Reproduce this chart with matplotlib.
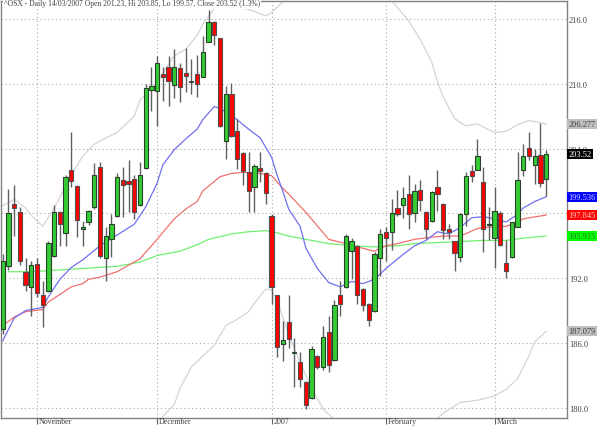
import matplotlib
matplotlib.use('Agg')
import matplotlib.pyplot as plt
import numpy as np
import matplotlib.transforms as mtransforms

# ---------------- data ----------------
opens = [187.3, 193.1, 198.9, 198.1, 192.6, 191.2, 193.3, 190.4, 190.8, 194.1,
         198.1, 196.2, 202.0, 200.5, 196.6, 197.2, 198.6, 202.3, 193.9, 195.6,
         197.8, 201.1, 201.0, 201.2, 198.8, 202.2, 209.4, 209.3, 210.9, 211.6,
         209.9, 211.5, 211.0, 210.2, 210.9, 210.6, 213.9, 215.7, 214.2, 204.7,
         209.1, 205.6, 203.6, 201.8, 200.4, 202.2, 201.7, 197.8, 190.4, 185.9,
         187.9, 185.1, 184.2, 182.4, 180.9, 184.8, 183.8, 187.0, 184.4, 190.4,
         191.2, 194.5, 195.0, 191.0, 189.6, 189.0, 193.9, 196.3, 196.3, 198.5,
         198.8, 199.8, 198.0, 200.2, 198.1, 197.3, 200.4, 198.9, 196.6, 195.4,
         194.0, 197.9, 201.9, 202.0, 200.9, 196.9, 195.7, 198.0, 193.4, 194.0,
         196.7, 202.0, 204.1, 202.5, 203.4, 201.23]
highs = [194.2, 200.3, 200.6, 198.6, 193.9, 193.6, 193.9, 191.7, 195.4, 198.8,
         198.2, 201.6, 205.5, 200.6, 197.3, 198.3, 202.7, 202.8, 196.7, 197.9,
         201.7, 202.3, 202.9, 201.6, 202.8, 210.0, 211.6, 212.6, 211.6, 212.6,
         213.2, 211.9, 213.3, 212.3, 212.7, 214.4, 216.8, 215.8, 214.2, 209.8,
         210.1, 206.7, 203.7, 203.7, 202.6, 203.7, 201.8, 197.9, 190.4, 188.0,
         190.4, 186.5, 185.2, 182.5, 185.7, 184.9, 187.6, 188.5, 190.0, 191.7,
         196.1, 195.7, 195.1, 191.1, 189.7, 194.4, 196.6, 196.7, 199.3, 200.2,
         200.4, 201.6, 200.7, 201.1, 198.2, 200.1, 202.0, 199.0, 197.0, 195.4,
         198.0, 201.8, 202.5, 204.9, 202.3, 198.6, 200.4, 198.2, 195.5, 197.2,
         203.7, 204.4, 205.5, 204.0, 206.4, 203.85]
lows = [186.8, 192.8, 195.9, 193.2, 190.8, 188.5, 190.3, 187.5, 190.7, 194.0,
        195.0, 195.0, 200.4, 195.8, 195.0, 196.9, 198.4, 193.9, 191.7, 194.0,
        197.7, 197.7, 198.1, 197.5, 198.7, 202.1, 207.5, 206.1, 208.4, 207.9,
        208.7, 208.3, 209.2, 209.1, 208.8, 210.6, 213.9, 213.6, 206.0, 203.0,
        205.1, 202.1, 200.6, 198.1, 198.1, 200.9, 198.9, 189.6, 184.7, 184.3,
        185.5, 181.9, 181.9, 179.9, 180.8, 183.6, 183.5, 183.3, 184.3, 188.5,
        191.1, 191.9, 189.6, 189.0, 187.6, 188.9, 192.2, 193.6, 194.6, 197.8,
        197.6, 196.6, 197.2, 198.2, 195.6, 197.2, 198.2, 195.6, 195.6, 192.7,
        193.5, 196.8, 200.9, 202.0, 194.4, 195.5, 192.9, 195.0, 192.0, 193.9,
        196.7, 201.5, 202.9, 200.7, 200.4, 199.57]
closes = [193.6, 198.0, 198.5, 193.6, 191.4, 193.2, 190.6, 189.5, 195.3, 198.1,
          197.0, 201.4, 201.0, 197.4, 196.7, 198.2, 201.6, 194.1, 195.9, 197.0,
          201.4, 200.6, 200.7, 198.1, 201.6, 209.6, 209.8, 211.9, 210.6, 210.3,
          211.6, 209.7, 210.7, 210.2, 210.0, 212.9, 215.7, 214.5, 206.1, 209.1,
          205.2, 203.0, 201.9, 200.1, 202.4, 201.9, 199.9, 191.2, 185.6, 186.3,
          186.4, 185.1, 182.7, 180.3, 185.4, 183.8, 186.6, 184.0, 189.5, 189.6,
          195.9, 195.4, 190.4, 189.5, 188.1, 194.2, 196.1, 195.7, 198.0, 197.9,
          199.4, 197.9, 200.1, 199.2, 196.6, 200.0, 199.8, 196.5, 196.3, 194.3,
          197.9, 201.5, 201.5, 203.3, 196.6, 197.0, 198.2, 195.1, 192.7, 197.2,
          201.1, 203.3, 203.3, 203.3, 200.8, 203.52]

month_labels = ['November', 'December', '2007', 'February', 'March']
month_start_day = [6, 27, 47, 67, 86]

# indicator lines (day index, value)
blue_days = [0, 2, 4, 7, 8, 10, 12, 14, 17, 20, 23, 25, 27, 28, 30, 32, 34, 35, 37, 38,
             40, 43, 45, 47, 48, 49, 50, 52, 53, 55, 57, 59, 61, 63, 65, 67, 70, 72,
             74, 76, 78, 80, 82, 84, 86, 88, 90, 91, 93, 95]
blue_vals = [186.2, 188.3, 189.0, 189.3, 190.3, 191.9, 193.0, 193.7, 195.0, 196.0,
             197.0, 198.6, 200.8, 202.5, 203.9, 204.9, 205.8, 206.7, 207.9, 207.7,
             207.1, 205.8, 205.0, 203.2, 201.5, 200.0, 198.4, 196.8, 194.8, 192.9,
             191.6, 191.2, 191.7, 191.5, 191.9, 192.9, 194.2, 195.0, 195.5, 196.3,
             196.1, 196.7, 197.6, 197.7, 197.5, 197.2, 197.9, 198.5, 199.1, 199.536]
red_days = [0, 2, 4, 7, 8, 10, 12, 14, 15, 17, 20, 24, 27, 30, 32, 34, 35, 38, 40, 42,
            45, 47, 49, 50, 53, 57, 60, 62, 65, 67, 69, 72, 75, 77, 80, 83, 84, 88, 90,
            91, 95]
red_vals = [187.6, 188.4, 188.9, 189.1, 189.8, 190.5, 191.2, 191.5, 191.9, 192.1,
            192.6, 193.8, 195.6, 197.5, 198.4, 199.1, 200.1, 201.4, 201.7, 201.8,
            201.7, 201.5, 200.3, 199.8, 198.1, 195.6, 195.2, 194.9, 194.5, 195.0,
            195.2, 195.6, 195.8, 195.9, 195.9, 196.6, 196.7, 196.8, 197.2, 197.5,
            197.845]
green_days = [1, 5, 11, 17, 20, 24, 27, 31, 34, 36, 40, 43, 46, 48, 50, 53, 57, 61, 65,
              69, 72, 76, 80, 84, 88, 91, 95]
green_vals = [192.6, 192.6, 192.8, 193.0, 193.1, 193.5, 194.1, 194.5, 195.1, 195.6,
              196.1, 196.3, 196.4, 196.2, 195.9, 195.6, 195.2, 195.0, 194.9, 195.0,
              195.2, 195.3, 195.4, 195.5, 195.5, 195.7, 195.915]
bb_up_days = [0, 2, 4, 5, 7, 9, 11, 12, 14, 16, 17, 20, 23, 24, 27, 29, 30, 32, 34, 35,
              37, 40, 43, 46, 47, 49, 50, 67, 68, 71, 73, 75, 76, 77, 79, 80, 81, 83,
              84, 86, 88, 90, 92, 93, 95]
bb_up_vals = [198.7, 199.3, 198.5, 197.8, 196.8, 198.5, 200.5, 201.6, 203.3, 204.4,
              204.7, 205.5, 207.0, 208.5, 210.1, 211.8, 212.6, 213.2, 214.5, 215.5,
              217.0, 217.1, 216.9, 216.3, 216.6, 217.6, np.nan, np.nan, 217.7, 215.8,
              214.1, 212.0, 210.2, 208.8, 206.8, 206.4, 206.1, 206.3, 206.0, 205.5,
              205.6, 206.2, 206.6, 206.5, 206.277]
bb_lo_days = [27, 28, 30, 31, 33, 36, 37, 39, 41, 43, 44, 46, 47, 48, 50, 52, 54, 56,
              57, 58, 59, 75, 76, 77, 80, 83, 86, 88, 90, 92, 93, 95]
bb_lo_vals = [178.5, 179.2, 180.3, 181.8, 183.8, 185.3, 185.8, 187.6, 188.2, 188.9,
              189.7, 191.0, 190.9, 189.9, 186.8, 184.2, 181.8, 179.9, 179.4, 178.9,
              np.nan, np.nan, 179.0, 179.5, 180.5, 180.7, 181.1, 181.7, 182.7, 184.8,
              186.1, 187.079]

title = "^OSX - Daily 14/03/2007 Open 201.23, Hi 203.85, Lo 199.57, Close 203.52 (1.3%)"
ytick_vals = [180, 186, 192, 204, 210, 216]
grid_vals = [180, 186, 192, 198, 204, 210, 216]

value_tags = [  # label, value, face colour, text colour
    ('206.277', 206.277, '#c0c0c0', '#404040'),
    ('203.52', 203.52, '#000000', '#ffffff'),
    ('199.536', 199.536, '#0000ff', '#d0d0ff'),
    ('197.845', 197.845, '#ff0000', '#ffd0d0'),
    ('195.915', 195.915, '#00ff00', '#307030'),
    ('187.079', 187.079, '#c0c0c0', '#404040'),
]

# ---------------- figure ----------------
FONT = 'Liberation Serif'
W, H = 600, 427
fig = plt.figure(figsize=(W / 100, H / 100), dpi=100)
L, R, T, B = 1, 567, 2, 419
ax = fig.add_axes([L / W, 1 - B / H, (R - L) / W, (B - T) / H])

n = len(opens)
days = np.arange(n)
o = np.array(opens); c = np.array(closes)
hi = np.array(highs); lo = np.array(lows)

# grid
for v in grid_vals:
    ax.axhline(v, color='#a8a8a8', lw=0.8, ls=(0, (1, 2.5)), zorder=0.5)
for d in month_start_day:
    ax.axvline(d, color='#a8a8a8', lw=0.8, ls=(0, (1, 2.5)), zorder=0.5)

# indicator lines
ax.plot(bb_up_days, bb_up_vals, color='#d4d4d4', lw=0.9, zorder=1)
ax.plot(bb_lo_days, bb_lo_vals, color='#d4d4d4', lw=0.9, zorder=1)
ax.plot(green_days, green_vals, color='#70f070', lw=0.9, zorder=1.2)
ax.plot(red_days, red_vals, color='#f07070', lw=0.9, zorder=1.3)
ax.plot(blue_days, blue_vals, color='#7070f0', lw=0.9, zorder=1.4)

# candles
ax.vlines(days, lo, hi, color='#606060', lw=1.0, zorder=2)
doji = np.isclose(c, o)
up = (c > o)
down = (c < o)
body_bottom = np.minimum(o, c)
body_h = np.abs(c - o)
ax.bar(days[up], body_h[up], bottom=body_bottom[up], width=0.75,
       color='#33cc33', edgecolor='#2a402a', linewidth=0.8, zorder=3)
ax.bar(days[down], body_h[down], bottom=body_bottom[down], width=0.75,
       color='#ff0000', edgecolor='#505050', linewidth=0.8, zorder=3)
ax.hlines(c[doji], days[doji] - 0.4, days[doji] + 0.4, color='#1a3a1a', lw=1.2,
          zorder=3)

ax.set_xlim((L - 2.7) / 5.72, (R - 2.7) / 5.72)
ax.set_ylim(216 - (B - 20) / 10.8, 216 + (20 - T) / 10.8)

for s in ax.spines.values():
    s.set_color('#808080')
    s.set_linewidth(1.0)

ax.yaxis.tick_right()
ax.set_yticks(ytick_vals)
ax.set_yticklabels([f'{v:.1f}' for v in ytick_vals], fontsize=6, family=FONT,
                   color='#404040')
ax.tick_params(axis='y', length=0, pad=1.5)

ax.set_xticks(month_start_day)
ax.set_xticklabels([])
ax.tick_params(axis='x', length=4, width=0.8, color='#606060', direction='out')
trans = mtransforms.blended_transform_factory(ax.transData, fig.transFigure)
for d, lab in zip(month_start_day, month_labels):
    ax.text(d + 0.35, 0.6 / H, lab, transform=trans, ha='left', va='bottom',
            fontsize=5.8, family=FONT, color='#404040')

# value tags at the right
ytrans = ax.get_yaxis_transform()
for lab, v, fc, tc in value_tags:
    ax.text(1.0025, v, lab, transform=ytrans,
            ha='left', va='center', fontsize=6, family=FONT, color=tc,
            bbox=dict(boxstyle='square,pad=0.12', fc=fc, ec='none'), zorder=5,
            clip_on=False)

fig.text(4 / W, 1 - 4.5 / H, title, ha='left', va='center', fontsize=5.5,
         family=FONT, color='#404040',
         bbox=dict(boxstyle='square,pad=0.15', fc='white', ec='none'))

fig.savefig('out.png', dpi=100, facecolor='white')
